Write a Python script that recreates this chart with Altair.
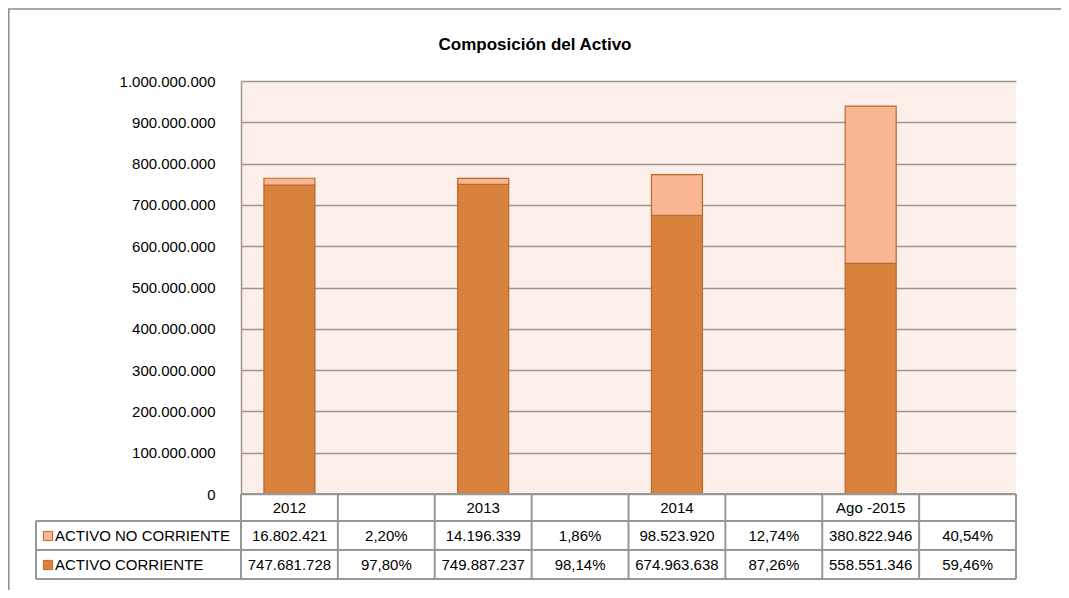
import altair as alt
import pandas as pd

# ---- data ----
categories = ["2012", "2013", "2014", "Ago -2015"]
activo_no_corriente = [16802421, 14196339, 98523920, 380822946]
activo_corriente = [747681728, 749887237, 674963638, 558551346]
pct_no_corriente = [0.0220, 0.0186, 0.1274, 0.4054]
pct_corriente = [0.9780, 0.9814, 0.8726, 0.5946]
series_names = ["ACTIVO NO CORRIENTE", "ACTIVO CORRIENTE"]
y_ticks = [0, 100000000, 200000000, 300000000, 400000000, 500000000,
           600000000, 700000000, 800000000, 900000000, 1000000000]

# slots: category column followed by an empty (percentage) column
slots = []
for i in range(len(categories)):
    slots += [f"s{2*i}", f"s{2*i+1}"]

W, H = 775, 413
FONT = "Liberation Sans"
FS = 15
LIGHT, DARK, EDGE = "#F8B692", "#D9823E", "#B9692E"
GRID = "#979797"

bars = []
for i, c in enumerate(categories):
    bars.append({"slot": slots[2*i], "series": "ACTIVO CORRIENTE", "value": activo_corriente[i], "ord": 0})
    bars.append({"slot": slots[2*i], "series": "ACTIVO NO CORRIENTE", "value": activo_no_corriente[i], "ord": 1})
bars_df = pd.DataFrame(bars)

table_rows = []
for i, c in enumerate(categories):
    table_rows.append({"slot": slots[2*i], "pslot": slots[2*i+1], "cat": c,
                       "nc": activo_no_corriente[i], "c": activo_corriente[i],
                       "pnc": pct_no_corriente[i], "pc": pct_corriente[i]})
table_df = pd.DataFrame(table_rows)
slots_df = pd.DataFrame({"slot": slots})

def xenc(field="slot", band=0.5):
    return alt.X(f"{field}:N", bandPosition=band,
                 scale=alt.Scale(domain=slots, paddingInner=0, paddingOuter=0),
                 axis=None)

base_bar = alt.Chart(bars_df).mark_bar(size=51, stroke=EDGE, strokeWidth=1.2).encode(
    x=alt.X("slot:N", scale=alt.Scale(domain=slots, paddingInner=0, paddingOuter=0), axis=None),
    y=alt.Y("value:Q", stack="zero",
            scale=alt.Scale(domain=[0, 1000000000], nice=False),
            axis=alt.Axis(values=y_ticks, format=",d", title=None, ticks=False,
                          labelFont=FONT, labelFontSize=FS, labelColor="black",
                          labelPadding=26, domainColor=GRID, domainWidth=1.5,
                          gridColor=GRID, gridWidth=1.5)),
    color=alt.Color("series:N", scale=alt.Scale(domain=series_names, range=[LIGHT, DARK]), legend=None),
    order=alt.Order("ord:Q", sort="ascending"),
)

tc = alt.Chart(table_df)
txt = dict(font=FONT, fontSize=FS, color="black", baseline="middle", align="center")

header = tc.mark_text(**txt).encode(x=xenc("slot"), y=alt.value(427), text="cat:N")
r1v = tc.mark_text(**txt).encode(x=xenc("slot"), y=alt.value(455), text=alt.Text("nc:Q", format=",d"))
r1p = tc.mark_text(**txt).encode(x=xenc("pslot"), y=alt.value(455), text=alt.Text("pnc:Q", format=".2%"))
r2v = tc.mark_text(**txt).encode(x=xenc("slot"), y=alt.value(484), text=alt.Text("c:Q", format=",d"))
r2p = tc.mark_text(**txt).encode(x=xenc("pslot"), y=alt.value(484), text=alt.Text("pc:Q", format=".2%"))

# table grid
vlines = alt.Chart(slots_df).mark_rule(color=GRID, strokeWidth=2).encode(
    x=xenc("slot", 0), y=alt.value(413), y2=alt.value(498))
rline = alt.Chart(slots_df).mark_rule(color=GRID, strokeWidth=2).encode(
    x=alt.value(W), y=alt.value(413), y2=alt.value(498))
lline = alt.Chart(slots_df).mark_rule(color=GRID, strokeWidth=2).encode(
    x=alt.value(-205), y=alt.value(440), y2=alt.value(498))
hl = []
for yy, x0 in [(413, 0), (440, -205), (469, -205), (498, -205)]:
    hl.append(alt.Chart(slots_df).mark_rule(color=GRID, strokeWidth=2).encode(
        x=alt.value(x0), x2=alt.value(W), y=alt.value(yy)))

# legend cells
leg_df = pd.DataFrame({"series": series_names})
leg = []
for name, yy in zip(series_names, [455, 484]):
    d = alt.Chart(leg_df).transform_filter(alt.datum.series == name)
    leg.append(d.mark_square(size=85, stroke=EDGE, strokeWidth=1, opacity=1).encode(
        x=alt.value(-193), y=alt.value(yy),
        fill=alt.Fill("series:N", scale=alt.Scale(domain=series_names, range=[LIGHT, DARK]), legend=None)))
    leg.append(d.mark_text(font=FONT, fontSize=FS, color="black", baseline="middle", align="left").encode(
        x=alt.value(-186), y=alt.value(yy), text="series:N"))

title = alt.Chart(leg_df.head(1)).mark_text(font=FONT, fontSize=17, fontWeight="bold",
                                            color="black", baseline="middle", align="center").encode(
    x=alt.value(294), y=alt.value(-36), text=alt.value("Composición del Activo"))

frame = alt.Chart(leg_df.head(1)).mark_rect(fill=None, stroke="#8c8c8c", strokeWidth=1.5).encode(
    x=alt.value(-232.2), x2=alt.value(W + 80), y=alt.value(-72), y2=alt.value(H + 120))

chart = alt.layer(base_bar, vlines, rline, lline, *hl, header, r1v, r1p, r2v, r2p,
                  *leg, title, frame).properties(
    width=W, height=H,
    autosize=alt.AutoSizeParams(type="none"),
    padding={"left": 233, "top": 73, "right": 45, "bottom": 96},
).configure(background="white").configure_view(fill="#FCEEE9", strokeWidth=0)

chart.save("out.html", embed_options={
    "renderer": "svg", "actions": False,
    "formatLocale": {"decimal": ",", "thousands": ".", "grouping": [3], "currency": ["", " €"]},
})
